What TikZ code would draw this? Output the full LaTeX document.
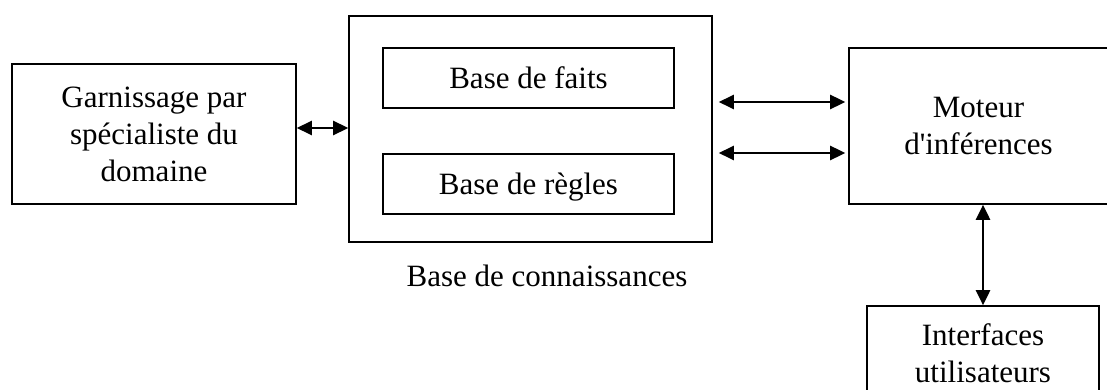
\documentclass[tikz,border=0pt]{standalone}
\usepackage{fontspec}
\setmainfont{Liberation Serif}[Ligatures=TeXOff]
\usetikzlibrary{arrows.meta}
\begin{document}
\begin{tikzpicture}[x=1pt,y=-1pt,
  box/.style={draw,line width=1.6pt,inner sep=0pt,align=center,
    font=\fontsize{31}{37}\selectfont},
  lbl/.style={inner sep=0pt,font=\fontsize{31}{37}\selectfont},
  dbl/.style={line width=2.6pt,{Triangle[length=15pt,width=14pt]}-{Triangle[length=15pt,width=14pt]}}]
\useasboundingbox (0,0) rectangle (1107,390);
\clip (0,0) rectangle (1107,390);
% blocks
\node[box,minimum width=284pt,minimum height=140pt] (garn) at (154,134)
  {Garnissage par\\spécialiste du\\domaine};
\node[box,minimum width=363pt,minimum height=226pt] (kb) at (530.5,129) {};
\node[box,minimum width=291pt,minimum height=60pt] (faits) at (528.5,78) {Base de faits};
\node[box,minimum width=291pt,minimum height=60pt,text depth=0pt] (regles) at (528.5,184) {Base de règles};
\node[lbl,anchor=base] (kblabel) at (547,286) {Base de connaissances};
\node[box,minimum width=259pt,minimum height=156pt] (moteur) at (978.5,126)
  {Moteur\\d'inférences};
\node[box,minimum width=232pt,minimum height=94pt] (iface) at (983,353)
  {Interfaces\\utilisateurs};
% links
\coordinate (kbA) at ([xshift=6pt]kb.east |- 0,102);
\coordinate (kbB) at ([xshift=6pt]kb.east |- 0,153);
\draw[dbl] (garn.east |- 0,128) -- (kb.west |- 0,128);
\draw[dbl] (kbA) -- ([xshift=-3pt]moteur.west |- kbA);
\draw[dbl] (kbB) -- ([xshift=-3pt]moteur.west |- kbB);
\draw[dbl] (moteur.south -| 983,0) -- (iface.north);
\end{tikzpicture}
\end{document}
